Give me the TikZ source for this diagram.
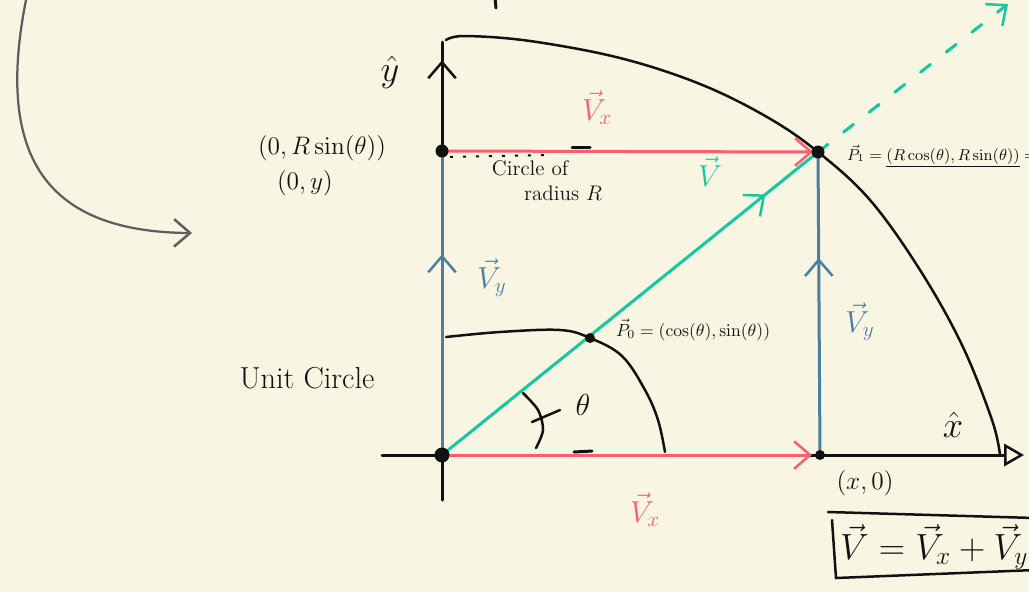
\documentclass[tikz,border=0pt]{standalone}
\usepackage{amsmath}
\usepackage{tikz}
\usetikzlibrary{arrows.meta, decorations.markings, calc}
\definecolor{Paper}{HTML}{F8F6E2}
\definecolor{VecX}{HTML}{FF5C6C}
\definecolor{VecY}{HTML}{4A7FA3}
\definecolor{VecV}{HTML}{14C9A0}
\definecolor{Ink}{HTML}{111111}
\definecolor{Pencil}{HTML}{5E5E5E}

\begin{document}
\begin{tikzpicture}[x=0.2mm, y=-0.2mm,
  >={Straight Barb[length=3.2mm, width=5.5mm, line width=0.5mm]},
  pen/.style={line width=0.6mm, line cap=round, line join=round},
  axis/.style={pen, Ink},
  curve/.style={line width=0.5mm, line cap=round, Ink},
  vecx/.style={pen, VecX},
  vecy/.style={pen, VecY},
  vecv/.style={pen, VecV},
  dot/.style={circle, fill=Ink, inner sep=0pt, minimum size=#1},
  midarrow/.style={postaction={decorate}, decoration={markings,
      mark=at position #1 with {\arrow{>}}}},
  lbl/.style={text=Ink, inner sep=1pt}]
  % paper
  \useasboundingbox (0,0) rectangle (1029,592);
  \clip (0,0) rectangle (1029,592);
  \fill[Paper] (0,0) rectangle (1029,592);
  % anchor points
  \coordinate (O)  at (442,455);
  \coordinate (Y)  at (442,151);
  \coordinate (P1) at (818,152);
  \coordinate (X)  at (820,455);
  \coordinate (P0) at (590,338);
  \coordinate (ybot) at (442,500);
  \coordinate (ytop) at (442,42);
  \coordinate (xl) at (382,455);
  \coordinate (xr) at (1024,455);
  \coordinate (far) at (1008,4);
  % pencil arrow at the left
  \coordinate (swS) at (27,-5);
  \coordinate (swE) at (192,233);
  \draw[Pencil, line width=0.45mm, line cap=round, ->] (swS) .. controls (-5,150) and (40,232) .. (swE);
  % stray mark at the top
  \draw[axis] (495,-2) -- (496,8);
  % axes
  \draw[axis, midarrow=0.96] (ybot) -- (ytop);
  \draw[axis, -{Triangle[open, length=4mm, width=4.5mm, line width=0.5mm]}] (xl) -- (xr);
  \draw[axis] (574,452) -- (592,451);
  % circle of radius R
  \draw[curve] plot[smooth, tension=0.6] coordinates {(446,40) (465,36) (530,41) (620,58)
      (700,84) (767,117) (818,152) (870,200) (920,270) (962,345) (992,420) (1000,455)};
  \draw[Ink, line width=0.4mm, dash pattern=on 0.6mm off 2mm] (450,157) -- (545,155);
  \draw[axis] (572,147) -- (590,147);
  % unit circle
  \draw[curve] plot[smooth, tension=0.6] coordinates {(446,337) (500,332) (560,330)
      (590,338) (622,356) (645,390) (658,420) (665,452)};
  % angle
  \draw[curve] plot[smooth] coordinates {(523,393) (538,410) (543,430) (536,448)};
  \draw[curve] (532,422) -- (560,410);
  % vector components
  \draw[vecy, midarrow=0.66] (O) -- (Y);
  \draw[vecy, midarrow=0.65] (X) -- (P1);
  \draw[vecx, ->, shorten >=1mm] (Y) -- (P1);
  \draw[vecx, ->, shorten >=1.6mm] (O) -- (X);
  \draw[vecv, midarrow=0.86] (O) -- (P1);
  \draw[vecv, dash pattern=on 2.5mm off 4mm, ->] (P1) -- (far);
  % points
  \node[dot=3mm] (nO)  at (O)  {};
  \node[dot=2.6mm] (nY)  at (Y)  {};
  \node[dot=2.6mm] (nP1) at (P1) {};
  \node[dot=2mm] (nX)  at (X)  {};
  \node[dot=2mm] (nP0) at (P0) {};
  % labels
  \node[lbl, font=\huge] (yhat) at (390,72) {$\hat{y}$};
  \node[lbl, font=\huge] (xhat) at (953,425) {$\hat{x}$};
  \node[lbl, font=\Large] (ysin) at (322,148) {$(0, R\sin(\theta))$};
  \node[lbl, font=\Large] (yy) at (305,183) {$(0, y)$};
  \node[lbl, font=\large] (circ1) at (530,168) {Circle of};
  \node[lbl, font=\large] (circ2) at (563,193) {radius $R$};
  \node[lbl, font=\LARGE] (unit) at (307,378) {Unit Circle};
  \node[lbl, font=\LARGE] (th) at (583,405) {$\theta$};
  \node[lbl, font=\Large] (xo) at (865,483) {$(x, 0)$};
  \node[lbl, text=VecX, font=\LARGE] (vx1) at (597,108) {$\vec{V}_{x}$};
  \node[lbl, text=VecX, font=\LARGE] (vx2) at (645,510) {$\vec{V}_{x}$};
  \node[lbl, text=VecV, font=\LARGE] (vv) at (710,172) {$\vec{V}$};
  \node[lbl, text=VecY, font=\LARGE] (vy1) at (492,278) {$\vec{V}_{y}$};
  \node[lbl, text=VecY, font=\LARGE] (vy2) at (860,322) {$\vec{V}_{y}$};
  \node[lbl, anchor=west] (p0) at (614,330) {$\vec{P}_{0} = (\cos(\theta), \sin(\theta))$};
  \node[lbl, anchor=west, font=\small] (p1) at (845,156)
    {$\vec{P}_{1} = \underline{(R\cos(\theta), R\sin(\theta))} = ($};
  % boxed sum
  \node[lbl, anchor=west, font=\huge] (sum) at (838,547) {$\vec{V} = \vec{V}_{x} + \vec{V}_{y}$};
  \draw[curve] (828,512) -- (1035,518);
  \draw[curve] (832,520) -- (836,578) -- (1035,570);
\end{tikzpicture}
\end{document}
